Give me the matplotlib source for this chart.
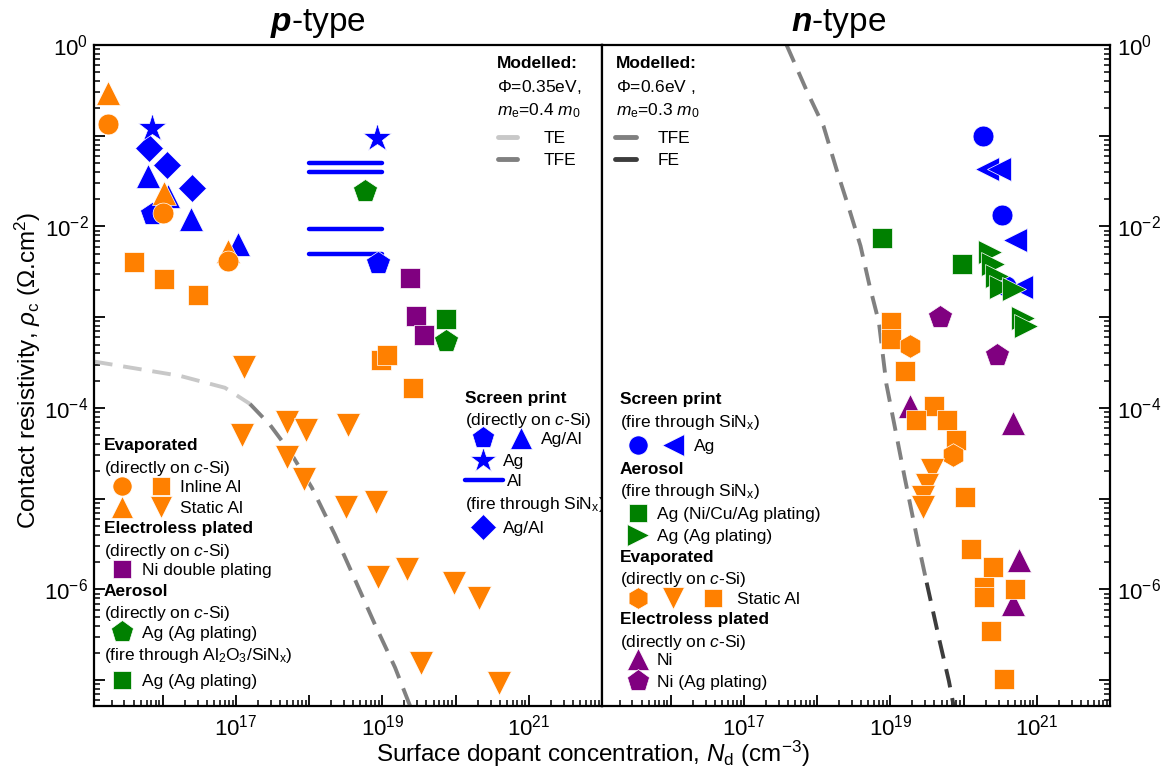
import numpy as np
import matplotlib
matplotlib.use('Agg')
import matplotlib.pyplot as plt
from matplotlib.ticker import FixedLocator, LogLocator, FuncFormatter, NullFormatter

plt.rcParams['font.family'] = ['Liberation Sans', 'DejaVu Sans']
plt.rcParams['mathtext.fontset'] = 'custom'
plt.rcParams['mathtext.rm'] = 'Liberation Sans'
plt.rcParams['mathtext.it'] = 'Liberation Sans:italic'
plt.rcParams['mathtext.bf'] = 'Liberation Sans:bold'
plt.rcParams['mathtext.bfit'] = 'Liberation Sans:bold:italic'

ORANGE = '#FF8000'
BLUE = '#0000FF'
GREEN = '#008000'
PURPLE = '#800080'

# ---------------- p-type data ----------------
# evaporated, inline Al
p_inl_circ_x = [1.78e15, 1.0e16, 7.8e16]
p_inl_circ_y = [0.135, 0.0142, 0.0042]
p_inl_sq_x = [4.1e15, 1.03e16, 3.0e16, 9.6e18, 1.15e19, 2.64e19]
p_inl_sq_y = [0.0041, 0.00265, 0.00177, 3.4e-4, 3.85e-4, 1.67e-4]
# evaporated, static Al
p_sta_up_x = [1.78e15, 1.03e16, 7.8e16]
p_sta_up_y = [0.296, 0.0234, 0.0054]
p_sta_dn_x = [1.28e17, 1.21e17, 4.98e17, 9.0e17, 3.39e18, 4.98e17, 8.5e17, 3.18e18,
              8.2e18, 8.7e18, 2.17e19, 9.5e19, 2.09e20, 3.37e19, 3.89e20]
p_sta_dn_y = [2.84e-4, 5.07e-5, 7.05e-5, 5.75e-5, 6.53e-5, 2.9e-5, 1.66e-5, 8.2e-6,
              9.3e-6, 1.36e-6, 1.69e-6, 1.19e-6, 8.1e-7, 1.56e-7, 9.4e-8]
# screen print directly on c-Si
p_sp_pent_x = [7.1e15, 8.7e18]
p_sp_pent_y = [0.0138, 0.00401]
p_sp_tri_x = [6.35e15, 1.18e16, 2.43e16, 1.08e17]
p_sp_tri_y = [0.036, 0.0217, 0.0121, 0.00643]
p_sp_star_x = [7.1e15, 8.5e18]
p_sp_star_y = [0.122, 0.0946]
p_sp_al_x = [1e18, 1e19]
p_sp_al_y = [0.05, 0.04, 0.0095, 0.005]
# screen print fire through SiNx
p_ft_dia_x = [6.5e15, 1.16e16, 2.5e16]
p_ft_dia_y = [0.0734, 0.0482, 0.0266]
# electroless Ni double plating
p_ni_sq_x = [2.36e19, 2.88e19, 3.7e19]
p_ni_sq_y = [0.00274, 1.03e-3, 6.4e-4]
# aerosol
p_aer_pent_x = [5.78e18, 7.5e19]
p_aer_pent_y = [0.0249, 5.5e-4]
p_aer_sq_x = [7.5e19]
p_aer_sq_y = [9.5e-4]
# modelled
p_te_x = [1.15e15, 1.72e16, 7.08e16, 1.55e17]
p_te_y = [3.25e-4, 2.26e-4, 1.67e-4, 1.11e-4]
p_tfe_x = [1.55e17, 2.91e17, 5.47e17, 1.09e18, 2.25e18, 4.23e18, 7.93e18, 1.49e19, 2.38e19]
p_tfe_y = [1.11e-4, 6.53e-5, 3.3e-5, 1.32e-5, 4.0e-6, 1.28e-6, 4.1e-7, 1.38e-7, 5.25e-8]

# ---------------- n-type data ----------------
n_sp_circ_x = [1.85e20, 3.3e20, 3.81e20]
n_sp_circ_y = [0.1, 0.0133, 2.22e-3]
n_sp_ltri_x = [2.1e20, 3.0e20, 5.08e20, 6.0e20]
n_sp_ltri_y = [0.0425, 0.0425, 7.1e-3, 2.13e-3]
n_aer_sq_x = [7.8e18, 9.4e19]
n_aer_sq_y = [7.55e-3, 3.91e-3]
n_aer_rtri_x = [2.26e20, 2.54e20, 2.82e20, 3.2e20, 4.82e20, 6.4e20, 7.2e20]
n_aer_rtri_y = [5.17e-3, 3.84e-3, 2.86e-3, 2.13e-3, 2.06e-3, 9.75e-4, 8.1e-4]
n_ni_pent_x = [4.7e19, 2.84e20]
n_ni_pent_y = [1.0e-3, 3.8e-4]
n_ni_tri_x = [1.86e19, 4.67e20, 5.7e20, 4.67e20]
n_ni_tri_y = [1.04e-4, 6.8e-5, 2.09e-6, 6.9e-7]
n_ev_hex_x = [1.83e19, 7.08e19]
n_ev_hex_y = [4.88e-4, 3.03e-5]
n_ev_dn_x = [3.73e19, 3.13e19, 2.75e19, 2.8e19]
n_ev_dn_y = [2.07e-5, 1.43e-5, 1.05e-5, 8.1e-6]
n_ev_sq_x = [1.02e19, 1.02e19, 1.56e19, 3.96e19, 2.21e19, 5.95e19, 7.94e19, 1.04e20,
             1.26e20, 2.53e20, 1.89e20, 1.89e20, 5.08e20, 2.39e20, 3.59e20]
n_ev_sq_y = [8.8e-4, 5.8e-4, 2.53e-4, 1.04e-4, 7.4e-5, 7.4e-5, 4.44e-5, 1.05e-5,
             2.8e-6, 1.76e-6, 1.06e-6, 8.2e-7, 1.01e-6, 3.5e-7, 1.02e-7]
n_tfe_x = [3.82e17, 7.26e17, 1.22e18, 1.84e18, 2.75e18, 3.91e18, 5.2e18, 6.97e18,
           8.8e18, 1.17e19, 1.56e19, 2.35e19, 3.13e19]
n_tfe_y = [1.0, 0.308, 0.128, 0.0424, 0.0154, 0.0061, 2.22e-3, 8.8e-4,
           1.85e-4, 5.75e-5, 1.75e-5, 3.47e-6, 1.19e-6]
n_fe_x = [3.13e19, 4.7e19, 6.3e19, 7.3e19]
n_fe_y = [1.19e-6, 2.71e-7, 9.8e-8, 5.25e-8]

xlabels_at = [17, 19, 21]
ylabels_at = [0, -2, -4, -6]

TE_C, TFE_C, FE_C = '#C8C8C8', '#808080', '#3C3C3C'
DASH = (0, (4.8, 2.8))
MS = {'o': 15, 's': 14, '^': 17.5, 'v': 17.5, '<': 17.5, '>': 17.5, 'D': 14,
      'p': 18, 'h': 17, '*': 21}

fig = plt.figure(figsize=(11.69, 7.72), dpi=100)
W, H = 1169, 772
axl = fig.add_axes([94 / W, 1 - 706 / H, 508 / W, 661 / H])
axr = fig.add_axes([602 / W, 1 - 706 / H, 508 / W, 661 / H])


def style(ax, side):
    ax.set_xscale('log')
    ax.set_yscale('log')
    ax.set_xlim(1.15e15, 1e22)
    ax.set_ylim(5.2e-8, 1)
    ax.xaxis.set_major_locator(FixedLocator([10.0 ** k for k in range(15, 23)]))
    ax.xaxis.set_major_formatter(FuncFormatter(
        lambda v, p: '$10^{%d}$' % round(np.log10(v)) if round(np.log10(v)) in xlabels_at else ''))
    ax.xaxis.set_minor_locator(LogLocator(base=10, subs=np.arange(2, 10), numticks=100))
    ax.xaxis.set_minor_formatter(NullFormatter())
    ax.yaxis.set_major_locator(FixedLocator([10.0 ** k for k in range(-8, 1)]))
    ax.yaxis.set_major_formatter(FuncFormatter(
        lambda v, p: '$10^{%d}$' % round(np.log10(v)) if round(np.log10(v)) in ylabels_at else ''))
    ax.yaxis.set_minor_locator(LogLocator(base=10, subs=np.arange(2, 10), numticks=100))
    ax.yaxis.set_minor_formatter(NullFormatter())
    ax.tick_params(which='both', direction='in', top=False, labelsize=16)
    ax.tick_params(axis='x', which='both', pad=6)
    ax.tick_params(which='major', length=8, width=1.3)
    ax.tick_params(which='minor', length=4.5, width=1.1)
    if side == 'left':
        ax.tick_params(axis='y', which='both', left=True, right=False,
                       labelleft=True, labelright=False, pad=4)
    else:
        ax.tick_params(axis='y', which='both', left=False, right=True,
                       labelleft=False, labelright=True, pad=5)
    for s in ax.spines.values():
        s.set_linewidth(1.6)


def pts(ax, x, y, m, c, z=3):
    ax.plot(x, y, ls='none', marker=m, color=c, ms=MS[m], mec='white', mew=0.5, zorder=z)


def key(ax, fx, fy, m, c, scale=0.92):
    ax.plot([fx], [fy], ls='none', marker=m, color=c, ms=MS[m] * scale, mec='white',
            mew=0.5, transform=ax.transAxes, clip_on=False, zorder=5)


def txt(ax, fx, fy, s, bold=False):
    ax.text(fx, fy, s, transform=ax.transAxes, fontsize=12.5, va='center_baseline', ha='left',
            fontweight='bold' if bold else 'normal', zorder=6)


def lkey(ax, fx0, fx1, fy, c, lw=3.5):
    ax.plot([fx0, fx1], [fy, fy], color=c, lw=lw, solid_capstyle='round',
            transform=ax.transAxes, clip_on=False, zorder=5)


style(axl, 'left')
style(axr, 'right')

# ---------------- p-type panel ----------------
axl.plot(p_te_x, p_te_y, color=TE_C, lw=2.8, ls=DASH, zorder=2)
axl.plot(p_tfe_x, p_tfe_y, color=TFE_C, lw=2.8, ls=DASH, zorder=2)
for yv in p_sp_al_y:
    axl.plot(p_sp_al_x, [yv, yv], color=BLUE, lw=3.2, solid_capstyle='round', zorder=3)
pts(axl, p_ft_dia_x, p_ft_dia_y, 'D', BLUE)
pts(axl, p_sp_tri_x, p_sp_tri_y, '^', BLUE)
pts(axl, p_sp_pent_x, p_sp_pent_y, 'p', BLUE)
pts(axl, p_sp_star_x, p_sp_star_y, '*', BLUE)
pts(axl, p_inl_sq_x, p_inl_sq_y, 's', ORANGE)
pts(axl, p_sta_dn_x, p_sta_dn_y, 'v', ORANGE)
pts(axl, p_sta_up_x, p_sta_up_y, '^', ORANGE)
pts(axl, p_inl_circ_x, p_inl_circ_y, 'o', ORANGE)
pts(axl, p_ni_sq_x, p_ni_sq_y, 's', PURPLE)
pts(axl, p_aer_sq_x, p_aer_sq_y, 's', GREEN)
pts(axl, p_aer_pent_x, p_aer_pent_y, 'p', GREEN)

# modelled legend (p)
txt(axl, 0.794, 0.9747, 'Modelled:', bold=True)
txt(axl, 0.794, 0.9395, r'$\mathit{Φ}$=0.35eV,')
txt(axl, 0.794, 0.9042, r'$m_\mathrm{e}$=0.4 $m_\mathrm{0}$')
lkey(axl, 0.795, 0.833, 0.8613, TE_C)
txt(axl, 0.886, 0.8613, 'TE')
lkey(axl, 0.795, 0.833, 0.8271, TFE_C)
txt(axl, 0.886, 0.8271, 'TFE')

# screen print legend (p)
txt(axl, 0.730, 0.468, 'Screen print', bold=True)
txt(axl, 0.730, 0.435, r'(directly on $c$-Si)')
key(axl, 0.766, 0.4047, 'p', BLUE)
key(axl, 0.841, 0.4047, '^', BLUE)
txt(axl, 0.880, 0.4047, 'Ag/Al')
key(axl, 0.766, 0.3728, '*', BLUE)
txt(axl, 0.8045, 0.3728, 'Ag')
lkey(axl, 0.731, 0.805, 0.3424, BLUE, lw=3.2)
txt(axl, 0.812, 0.3424, 'Al')
txt(axl, 0.730, 0.3083, r'(fire through SiN$_\mathrm{x}$)')
key(axl, 0.766, 0.2714, 'D', BLUE)
txt(axl, 0.8045, 0.2714, 'Ag/Al')

# evaporated / electroless / aerosol legend (p)
txt(axl, 0.019, 0.3961, 'Evaporated', bold=True)
txt(axl, 0.019, 0.3626, r'(directly on $c$-Si)')
key(axl, 0.0557, 0.3322, 'o', ORANGE)
key(axl, 0.1317, 0.3322, 's', ORANGE)
txt(axl, 0.1685, 0.3322, 'Inline Al')
key(axl, 0.0557, 0.3018, '^', ORANGE)
key(axl, 0.1317, 0.3018, 'v', ORANGE)
txt(axl, 0.1685, 0.3018, 'Static Al')
txt(axl, 0.019, 0.2703, 'Electroless plated', bold=True)
txt(axl, 0.019, 0.2375, r'(directly on $c$-Si)')
key(axl, 0.0557, 0.2070, 's', PURPLE)
txt(axl, 0.094, 0.2070, 'Ni double plating')
txt(axl, 0.019, 0.1750, 'Aerosol', bold=True)
txt(axl, 0.019, 0.1436, r'(directly on $c$-Si)')
key(axl, 0.0557, 0.1121, 'p', GREEN)
txt(axl, 0.094, 0.1121, 'Ag (Ag plating)')
txt(axl, 0.019, 0.0802, r'(fire through Al$_\mathrm{2}$O$_\mathrm{3}$/SiN$_\mathrm{x}$)')
key(axl, 0.0557, 0.0396, 's', GREEN)
txt(axl, 0.094, 0.0396, 'Ag (Ag plating)')

# ---------------- n-type panel ----------------
axr.plot(n_tfe_x, n_tfe_y, color=TFE_C, lw=2.8, ls=DASH, zorder=2)
axr.plot(n_fe_x, n_fe_y, color=FE_C, lw=2.8, ls=DASH, zorder=2)
pts(axr, n_sp_circ_x, n_sp_circ_y, 'o', BLUE)
pts(axr, n_sp_ltri_x, n_sp_ltri_y, '<', BLUE)
pts(axr, n_aer_sq_x, n_aer_sq_y, 's', GREEN)
pts(axr, n_aer_rtri_x, n_aer_rtri_y, '>', GREEN)
pts(axr, n_ni_pent_x, n_ni_pent_y, 'p', PURPLE)
pts(axr, n_ni_tri_x, n_ni_tri_y, '^', PURPLE)
pts(axr, n_ev_sq_x, n_ev_sq_y, 's', ORANGE)
pts(axr, n_ev_hex_x, n_ev_hex_y, 'h', ORANGE)
pts(axr, n_ev_dn_x, n_ev_dn_y, 'v', ORANGE)

# modelled legend (n)
txt(axr, 0.027, 0.9747, 'Modelled:', bold=True)
txt(axr, 0.027, 0.9395, r'$\mathit{Φ}$=0.6eV ,')
txt(axr, 0.027, 0.9042, r'$m_\mathrm{e}$=0.3 $m_\mathrm{0}$')
lkey(axr, 0.026, 0.066, 0.8613, TFE_C)
txt(axr, 0.1089, 0.8613, 'TFE')
lkey(axr, 0.026, 0.066, 0.8271, FE_C)
txt(axr, 0.1089, 0.8271, 'FE')

# symbol legend (n)
txt(axr, 0.0348, 0.4657, 'Screen print', bold=True)
txt(axr, 0.0348, 0.4327, r'(fire through SiN$_\mathrm{x}$)')
key(axr, 0.0711, 0.3946, 'o', BLUE)
key(axr, 0.1394, 0.3946, '<', BLUE)
txt(axr, 0.1813, 0.3946, 'Ag')
txt(axr, 0.0348, 0.3607, 'Aerosol', bold=True)
txt(axr, 0.0348, 0.3287, r'(fire through SiN$_\mathrm{x}$)')
key(axr, 0.0711, 0.2917, 's', GREEN)
txt(axr, 0.1075, 0.2917, 'Ag (Ni/Cu/Ag plating)')
key(axr, 0.0711, 0.2592, '>', GREEN)
txt(axr, 0.1075, 0.2592, 'Ag (Ag plating)')
txt(axr, 0.0348, 0.2272, 'Evaporated', bold=True)
txt(axr, 0.0348, 0.1953, r'(directly on $c$-Si)')
key(axr, 0.0711, 0.1638, 'h', ORANGE)
key(axr, 0.1394, 0.1638, 'v', ORANGE)
key(axr, 0.2177, 0.1638, 's', ORANGE)
txt(axr, 0.2648, 0.1638, 'Static Al')
txt(axr, 0.0348, 0.1324, 'Electroless plated', bold=True)
txt(axr, 0.0348, 0.1005, r'(directly on $c$-Si)')
key(axr, 0.0711, 0.0716, '^', PURPLE)
txt(axr, 0.1075, 0.0716, 'Ni')
key(axr, 0.0711, 0.0381, 'p', PURPLE)
txt(axr, 0.1075, 0.0381, 'Ni (Ag plating)')

# ---------------- labels and titles ----------------
axl.set_ylabel(r'Contact resistivity, $\rho_\mathrm{c}$ ($\Omega$.cm$^\mathrm{2}$)', fontsize=17.5)
axl.yaxis.set_label_coords(-0.1, 0.508)
fig.text(593 / W, 1 - 754 / H, r'Surface dopant concentration, $N_\mathrm{d}$ (cm$^\mathrm{-3}$)',
         ha='center', va='center', fontsize=17.5)
fig.text(318 / W, 1 - 24 / H, r'$\mathbfit{p}$-type', ha='center', va='center', fontsize=24)
fig.text(839 / W, 1 - 24 / H, r'$\mathbfit{n}$-type', ha='center', va='center', fontsize=24)

fig.savefig('out.png', dpi=100)
